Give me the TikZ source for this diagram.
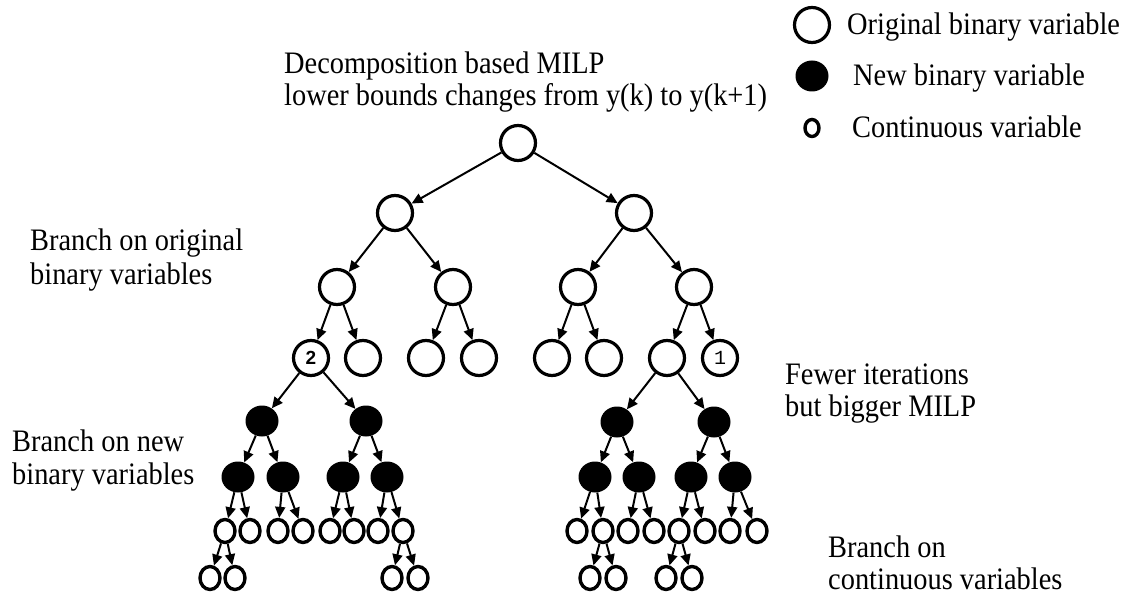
\documentclass[tikz,border=0pt]{standalone}
\usepackage{fontspec}
\usepackage{graphicx}
\setmainfont{Liberation Serif}
\newfontfamily\labsans{Liberation Sans}
\newfontfamily\labmono{Liberation Mono}
\usetikzlibrary{arrows.meta,shapes.geometric}
\newcommand{\tallt}[1]{\scalebox{1}[1.1]{#1}}
\begin{document}
\begin{tikzpicture}[x=1pt,y=-1pt,
 ob/.style={circle,draw,line width=3.2pt,minimum size=35pt,inner sep=0pt},
 nb/.style={ellipse,fill=black,minimum width=33pt,minimum height=31pt,inner sep=0pt},
 cv/.style={ellipse,draw,line width=3.4pt,minimum width=20pt,minimum height=23pt,inner sep=0pt},
 arr/.style={-{Triangle[length=11pt,width=10pt]},line width=2pt},
 lab/.style={anchor=base west,inner sep=0pt,font=\fontsize{28.4}{32}\selectfont}]
\useasboundingbox (0,0) rectangle (1133,596);
% legend
\node[ob] (lg1) at (812,25) {};
\node[nb] (lg2) at (812,76) {};
\node[cv,minimum width=14pt,minimum height=17pt] (lg3) at (812,128) {};
\node[lab] (lt1) at (847,35) {\tallt{Original binary variable}};
\node[lab] (lt2) at (853,86) {\tallt{New binary variable}};
\node[lab] (lt3) at (852,138) {\tallt{Continuous variable}};
% labels
\node[lab] (ta1) at (284,74) {\tallt{Decomposition based MILP}};
\node[lab] (ta2) at (284,106) {\tallt{lower bounds changes from y(k) to y(k+1)}};
\node[lab] (tb1) at (30,251) {\tallt{Branch on original}};
\node[lab] (tb2) at (30,284) {\tallt{binary variables}};
\node[lab] (tc1) at (12,451) {\tallt{Branch on new}};
\node[lab] (tc2) at (12,484) {\tallt{binary variables}};
\node[lab] (td1) at (785,384) {\tallt{Fewer iterations}};
\node[lab] (td2) at (785,416) {\tallt{but bigger MILP}};
\node[lab] (te1) at (828,557) {\tallt{Branch on}};
\node[lab] (te2) at (828,589) {\tallt{continuous variables}};
% tree: original binary
\node[ob] (r) at (518,143) {};
\node[ob] (a) at (395,213) {};
\node[ob] (b) at (634,213) {};
\node[ob] (a1) at (337,287) {};
\node[ob] (a2) at (453,287) {};
\node[ob] (b1) at (578,287) {};
\node[ob] (b2) at (694,287) {};
\node[ob,font=\labsans\bfseries\fontsize{19}{19}\selectfont] (c1) at (311,358) {2};
\node[ob] (c2) at (363,358) {};
\node[ob] (c3) at (426,358) {};
\node[ob] (c4) at (479,358) {};
\node[ob] (c5) at (552,358) {};
\node[ob] (c6) at (604,358) {};
\node[ob] (c7) at (667,358) {};
\node[ob,font=\labmono\fontsize{20}{20}\selectfont] (c8) at (720,358) {1};
\foreach \p/\k in {r/a,r/b,a/a1,a/a2,b/b1,b/b2,a1/c1,a1/c2,a2/c3,a2/c4,b1/c5,b1/c6,b2/c7,b2/c8}
  \draw[arr] (\p) -- (\k);
% new binary
\node[nb] (d1) at (262,421) {};
\node[nb] (d2) at (366,421) {};
\node[nb] (d3) at (617,422) {};
\node[nb] (d4) at (714,422) {};
\foreach \n/\x in {1/238,2/283,3/343,4/387,5/595,6/639,7/691,8/735}
  \node[nb] (e\n) at (\x,477) {};
\foreach \p/\k in {c1/d1,c1/d2,c7/d3,c7/d4,d1/e1,d1/e2,d2/e3,d2/e4,d3/e5,d3/e6,d4/e7,d4/e8}
  \draw[arr] (\p) -- (\k);
% continuous
\foreach \n/\x in {1/225,2/250,3/278,4/303,5/330,6/354,7/378,8/403,9/577,10/603,11/628,12/654,13/679,14/705,15/730,16/757}
  \node[cv] (f\n) at (\x,531) {};
\foreach \n/\x in {1/210,2/235,3/392,4/418,5/590,6/616,7/666,8/692}
  \node[cv] (g\n) at (\x,578) {};
\foreach \p/\k in {e1/f1,e1/f2,e2/f3,e2/f4,e3/f5,e3/f6,e4/f7,e4/f8,e5/f9,e5/f10,e6/f11,e6/f12,e7/f13,e7/f14,e8/f15,e8/f16,f1/g1,f1/g2,f8/g3,f8/g4,f10/g5,f10/g6,f13/g7,f13/g8}
  \draw[arr] (\p) -- (\k);
\end{tikzpicture}
\end{document}
